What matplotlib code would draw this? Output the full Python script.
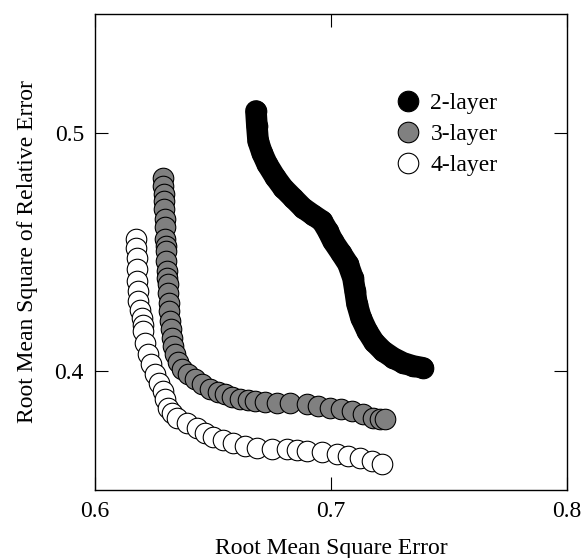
import matplotlib
matplotlib.use("Agg")
import matplotlib.pyplot as plt
from matplotlib.lines import Line2D

plt.rcParams["font.family"] = ["Liberation Serif", "DejaVu Serif"]
plt.rcParams["font.size"] = 17

# 2-layer (dense, looks like a solid band)
x2 = [0.6682, 0.6686, 0.6691, 0.6708, 0.6729, 0.6763, 0.6797, 0.6839, 0.6881,
      0.6924, 0.6962, 0.6987, 0.7008, 0.7042, 0.7072, 0.7093, 0.7102, 0.7110,
      0.7127, 0.7153, 0.7182, 0.7220, 0.7263, 0.7305, 0.7347, 0.7390]
y2 = [0.5092, 0.5029, 0.4966, 0.4916, 0.4870, 0.4815, 0.4769, 0.4727, 0.4685,
      0.4655, 0.4630, 0.4588, 0.4546, 0.4496, 0.4450, 0.4391, 0.4336, 0.4282,
      0.4223, 0.4168, 0.4122, 0.4084, 0.4055, 0.4034, 0.4021, 0.4013]

# 3-layer
x3 = [0.6288, 0.6288, 0.6292, 0.6292, 0.6292, 0.6297, 0.6297, 0.6297, 0.6301,
      0.6301, 0.6301, 0.6305, 0.6305, 0.6309, 0.6309, 0.6314, 0.6314, 0.6318,
      0.6322, 0.6326, 0.6331, 0.6339, 0.6352, 0.6369, 0.6394, 0.6424, 0.6453,
      0.6487, 0.6521, 0.6551, 0.6581, 0.6614, 0.6648, 0.6678, 0.6720, 0.6771,
      0.6826, 0.6898, 0.6945, 0.6996, 0.7042, 0.7089, 0.7136, 0.7178, 0.7208,
      0.7229]
y3 = [0.4811, 0.4777, 0.4744, 0.4714, 0.4681, 0.4639, 0.4605, 0.4555, 0.4525,
      0.4504, 0.4462, 0.4420, 0.4391, 0.4366, 0.4328, 0.4286, 0.4252, 0.4210,
      0.4176, 0.4139, 0.4105, 0.4071, 0.4038, 0.4008, 0.3987, 0.3966, 0.3945,
      0.3924, 0.3912, 0.3903, 0.3891, 0.3882, 0.3878, 0.3874, 0.3870, 0.3866,
      0.3866, 0.3861, 0.3853, 0.3845, 0.3840, 0.3832, 0.3819, 0.3803, 0.3798,
      0.3798]

# 4-layer
x4 = [0.6174, 0.6174, 0.6178, 0.6178, 0.6178, 0.6182, 0.6182, 0.6191, 0.6199,
      0.6203, 0.6203, 0.6212, 0.6225, 0.6237, 0.6254, 0.6271, 0.6288, 0.6297,
      0.6309, 0.6326, 0.6347, 0.6390, 0.6432, 0.6466, 0.6500, 0.6542, 0.6585,
      0.6636, 0.6686, 0.6750, 0.6814, 0.6856, 0.6898, 0.6962, 0.7025, 0.7072,
      0.7123, 0.7174, 0.7216]
y4 = [0.4555, 0.4517, 0.4475, 0.4429, 0.4378, 0.4336, 0.4294, 0.4256, 0.4223,
      0.4193, 0.4168, 0.4118, 0.4071, 0.4029, 0.3987, 0.3950, 0.3916, 0.3882,
      0.3845, 0.3824, 0.3803, 0.3782, 0.3761, 0.3739, 0.3723, 0.3710, 0.3697,
      0.3685, 0.3676, 0.3672, 0.3672, 0.3668, 0.3664, 0.3660, 0.3651, 0.3643,
      0.3634, 0.3622, 0.3609]

labels = ["2-layer", "3-layer", "4-layer"]
colors = ["black", "#808080", "white"]

ms = 14.8  # marker diameter in points

fig = plt.figure(figsize=(5.88, 5.58), dpi=100)
ax = fig.add_axes([0.1616, 0.1219, 0.8027, 0.8532])

# solid band for the 2-layer run, markers on top
ax.plot(x2, y2, color="black", lw=ms + 0.8, solid_capstyle="round",
        solid_joinstyle="round")
ax.scatter(x2, y2, s=ms ** 2, c=colors[0], edgecolors="black",
           linewidths=0.8, zorder=3)
ax.scatter(x3, y3, s=ms ** 2, c=colors[1], edgecolors="black",
           linewidths=0.8, zorder=3)
ax.scatter(x4, y4, s=ms ** 2, c=colors[2], edgecolors="black",
           linewidths=0.8, zorder=3)

ax.set_xlim(0.6, 0.8)
ax.set_ylim(0.35, 0.55)
ax.set_xticks([0.6, 0.7, 0.8])
ax.set_yticks([0.4, 0.5])
ax.set_xticklabels(["0.6", "0.7", "0.8"])
ax.set_yticklabels(["0.4", "0.5"])
ax.tick_params(direction="in", length=9.5, width=0.8, top=True, right=True,
               pad=8)
for sp in ax.spines.values():
    sp.set_linewidth(1.0)

ax.set_xlabel("Root Mean Square Error")
ax.set_ylabel("Root Mean Square of Relative Error", labelpad=12)
ax.xaxis.set_label_coords(0.5, -0.10)

handles = [Line2D([], [], ls="none", marker="o", markersize=ms,
                  markerfacecolor=c, markeredgecolor="black",
                  markeredgewidth=0.8) for c in colors]
ax.legend(handles, labels, loc="upper left", bbox_to_anchor=(0.618, 0.854),
          frameon=False, handlelength=1.0, handletextpad=0.45,
          labelspacing=0.39, borderaxespad=0)

fig.savefig("out.png", dpi=100)
